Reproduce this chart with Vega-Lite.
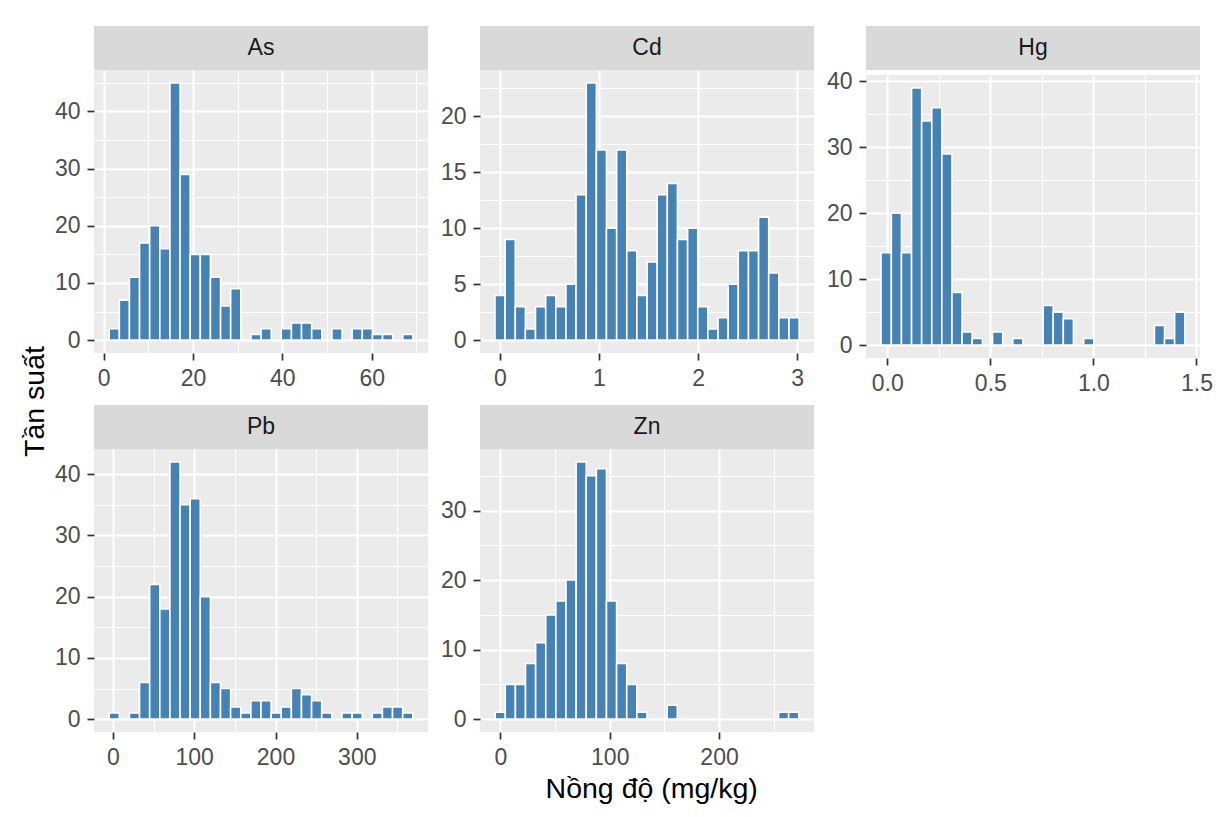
{
  "$schema": "https://vega.github.io/schema/vega-lite/v6.json",
  "background": "white",
  "padding": {"left": 20, "top": 26, "right": 5, "bottom": 5},
  "datasets": {
    "panels": [{"element": "As"}, {"element": "Cd"}, {"element": "Hg"}, {"element": "Pb"}, {"element": "Zn"}],
    "bins": [
      {"element": "As", "bin_start": 1.25, "bin_end": 3.52, "count": 2},
      {"element": "As", "bin_start": 3.52, "bin_end": 5.78, "count": 7},
      {"element": "As", "bin_start": 5.78, "bin_end": 8.05, "count": 11},
      {"element": "As", "bin_start": 8.05, "bin_end": 10.31, "count": 17},
      {"element": "As", "bin_start": 10.31, "bin_end": 12.58, "count": 20},
      {"element": "As", "bin_start": 12.58, "bin_end": 14.85, "count": 16},
      {"element": "As", "bin_start": 14.85, "bin_end": 17.11, "count": 45},
      {"element": "As", "bin_start": 17.11, "bin_end": 19.38, "count": 29},
      {"element": "As", "bin_start": 19.38, "bin_end": 21.64, "count": 15},
      {"element": "As", "bin_start": 21.64, "bin_end": 23.91, "count": 15},
      {"element": "As", "bin_start": 23.91, "bin_end": 26.18, "count": 11},
      {"element": "As", "bin_start": 26.18, "bin_end": 28.44, "count": 6},
      {"element": "As", "bin_start": 28.44, "bin_end": 30.71, "count": 9},
      {"element": "As", "bin_start": 32.97, "bin_end": 35.24, "count": 1},
      {"element": "As", "bin_start": 35.24, "bin_end": 37.51, "count": 2},
      {"element": "As", "bin_start": 39.77, "bin_end": 42.04, "count": 2},
      {"element": "As", "bin_start": 42.04, "bin_end": 44.3, "count": 3},
      {"element": "As", "bin_start": 44.3, "bin_end": 46.57, "count": 3},
      {"element": "As", "bin_start": 46.57, "bin_end": 48.84, "count": 2},
      {"element": "As", "bin_start": 51.1, "bin_end": 53.37, "count": 2},
      {"element": "As", "bin_start": 55.63, "bin_end": 57.9, "count": 2},
      {"element": "As", "bin_start": 57.9, "bin_end": 60.17, "count": 2},
      {"element": "As", "bin_start": 60.17, "bin_end": 62.43, "count": 1},
      {"element": "As", "bin_start": 62.43, "bin_end": 64.7, "count": 1},
      {"element": "As", "bin_start": 66.96, "bin_end": 69.23, "count": 1},
      {"element": "Cd", "bin_start": -0.049, "bin_end": 0.053, "count": 4},
      {"element": "Cd", "bin_start": 0.053, "bin_end": 0.156, "count": 9},
      {"element": "Cd", "bin_start": 0.156, "bin_end": 0.258, "count": 3},
      {"element": "Cd", "bin_start": 0.258, "bin_end": 0.36, "count": 1},
      {"element": "Cd", "bin_start": 0.36, "bin_end": 0.463, "count": 3},
      {"element": "Cd", "bin_start": 0.463, "bin_end": 0.565, "count": 4},
      {"element": "Cd", "bin_start": 0.565, "bin_end": 0.667, "count": 3},
      {"element": "Cd", "bin_start": 0.667, "bin_end": 0.769, "count": 5},
      {"element": "Cd", "bin_start": 0.769, "bin_end": 0.872, "count": 13},
      {"element": "Cd", "bin_start": 0.872, "bin_end": 0.974, "count": 23},
      {"element": "Cd", "bin_start": 0.974, "bin_end": 1.076, "count": 17},
      {"element": "Cd", "bin_start": 1.076, "bin_end": 1.179, "count": 10},
      {"element": "Cd", "bin_start": 1.179, "bin_end": 1.281, "count": 17},
      {"element": "Cd", "bin_start": 1.281, "bin_end": 1.383, "count": 8},
      {"element": "Cd", "bin_start": 1.383, "bin_end": 1.486, "count": 4},
      {"element": "Cd", "bin_start": 1.486, "bin_end": 1.588, "count": 7},
      {"element": "Cd", "bin_start": 1.588, "bin_end": 1.69, "count": 13},
      {"element": "Cd", "bin_start": 1.69, "bin_end": 1.792, "count": 14},
      {"element": "Cd", "bin_start": 1.792, "bin_end": 1.895, "count": 9},
      {"element": "Cd", "bin_start": 1.895, "bin_end": 1.997, "count": 10},
      {"element": "Cd", "bin_start": 1.997, "bin_end": 2.099, "count": 3},
      {"element": "Cd", "bin_start": 2.099, "bin_end": 2.202, "count": 1},
      {"element": "Cd", "bin_start": 2.202, "bin_end": 2.304, "count": 2},
      {"element": "Cd", "bin_start": 2.304, "bin_end": 2.406, "count": 5},
      {"element": "Cd", "bin_start": 2.406, "bin_end": 2.509, "count": 8},
      {"element": "Cd", "bin_start": 2.509, "bin_end": 2.611, "count": 8},
      {"element": "Cd", "bin_start": 2.611, "bin_end": 2.713, "count": 11},
      {"element": "Cd", "bin_start": 2.713, "bin_end": 2.815, "count": 6},
      {"element": "Cd", "bin_start": 2.815, "bin_end": 2.918, "count": 2},
      {"element": "Cd", "bin_start": 2.918, "bin_end": 3.02, "count": 2},
      {"element": "Hg", "bin_start": -0.03, "bin_end": 0.02, "count": 14},
      {"element": "Hg", "bin_start": 0.02, "bin_end": 0.069, "count": 20},
      {"element": "Hg", "bin_start": 0.069, "bin_end": 0.118, "count": 14},
      {"element": "Hg", "bin_start": 0.118, "bin_end": 0.167, "count": 39},
      {"element": "Hg", "bin_start": 0.167, "bin_end": 0.216, "count": 34},
      {"element": "Hg", "bin_start": 0.216, "bin_end": 0.265, "count": 36},
      {"element": "Hg", "bin_start": 0.265, "bin_end": 0.314, "count": 29},
      {"element": "Hg", "bin_start": 0.314, "bin_end": 0.363, "count": 8},
      {"element": "Hg", "bin_start": 0.363, "bin_end": 0.412, "count": 2},
      {"element": "Hg", "bin_start": 0.412, "bin_end": 0.462, "count": 1},
      {"element": "Hg", "bin_start": 0.511, "bin_end": 0.56, "count": 2},
      {"element": "Hg", "bin_start": 0.609, "bin_end": 0.658, "count": 1},
      {"element": "Hg", "bin_start": 0.756, "bin_end": 0.805, "count": 6},
      {"element": "Hg", "bin_start": 0.805, "bin_end": 0.854, "count": 5},
      {"element": "Hg", "bin_start": 0.854, "bin_end": 0.903, "count": 4},
      {"element": "Hg", "bin_start": 0.953, "bin_end": 1.002, "count": 1},
      {"element": "Hg", "bin_start": 1.296, "bin_end": 1.345, "count": 3},
      {"element": "Hg", "bin_start": 1.345, "bin_end": 1.394, "count": 1},
      {"element": "Hg", "bin_start": 1.394, "bin_end": 1.444, "count": 5},
      {"element": "Pb", "bin_start": -4.6, "bin_end": 7.85, "count": 1},
      {"element": "Pb", "bin_start": 20.3, "bin_end": 32.75, "count": 1},
      {"element": "Pb", "bin_start": 32.75, "bin_end": 45.2, "count": 6},
      {"element": "Pb", "bin_start": 45.2, "bin_end": 57.65, "count": 22},
      {"element": "Pb", "bin_start": 57.65, "bin_end": 70.1, "count": 18},
      {"element": "Pb", "bin_start": 70.1, "bin_end": 82.55, "count": 42},
      {"element": "Pb", "bin_start": 82.55, "bin_end": 95, "count": 35},
      {"element": "Pb", "bin_start": 95, "bin_end": 107.45, "count": 36},
      {"element": "Pb", "bin_start": 107.45, "bin_end": 119.9, "count": 20},
      {"element": "Pb", "bin_start": 119.9, "bin_end": 132.35, "count": 6},
      {"element": "Pb", "bin_start": 132.35, "bin_end": 144.8, "count": 5},
      {"element": "Pb", "bin_start": 144.8, "bin_end": 157.25, "count": 2},
      {"element": "Pb", "bin_start": 157.25, "bin_end": 169.7, "count": 1},
      {"element": "Pb", "bin_start": 169.7, "bin_end": 182.15, "count": 3},
      {"element": "Pb", "bin_start": 182.15, "bin_end": 194.6, "count": 3},
      {"element": "Pb", "bin_start": 194.6, "bin_end": 207.05, "count": 1},
      {"element": "Pb", "bin_start": 207.05, "bin_end": 219.5, "count": 2},
      {"element": "Pb", "bin_start": 219.5, "bin_end": 231.95, "count": 5},
      {"element": "Pb", "bin_start": 231.95, "bin_end": 244.4, "count": 4},
      {"element": "Pb", "bin_start": 244.4, "bin_end": 256.85, "count": 3},
      {"element": "Pb", "bin_start": 256.85, "bin_end": 269.3, "count": 1},
      {"element": "Pb", "bin_start": 281.75, "bin_end": 294.2, "count": 1},
      {"element": "Pb", "bin_start": 294.2, "bin_end": 306.65, "count": 1},
      {"element": "Pb", "bin_start": 319.1, "bin_end": 331.55, "count": 1},
      {"element": "Pb", "bin_start": 331.55, "bin_end": 344, "count": 2},
      {"element": "Pb", "bin_start": 344, "bin_end": 356.45, "count": 2},
      {"element": "Pb", "bin_start": 356.45, "bin_end": 368.9, "count": 1},
      {"element": "Zn", "bin_start": -4.83, "bin_end": 4.43, "count": 1},
      {"element": "Zn", "bin_start": 4.43, "bin_end": 13.69, "count": 5},
      {"element": "Zn", "bin_start": 13.69, "bin_end": 22.95, "count": 5},
      {"element": "Zn", "bin_start": 22.95, "bin_end": 32.21, "count": 8},
      {"element": "Zn", "bin_start": 32.21, "bin_end": 41.47, "count": 11},
      {"element": "Zn", "bin_start": 41.47, "bin_end": 50.73, "count": 15},
      {"element": "Zn", "bin_start": 50.73, "bin_end": 59.99, "count": 17},
      {"element": "Zn", "bin_start": 59.99, "bin_end": 69.25, "count": 20},
      {"element": "Zn", "bin_start": 69.25, "bin_end": 78.51, "count": 37},
      {"element": "Zn", "bin_start": 78.51, "bin_end": 87.77, "count": 35},
      {"element": "Zn", "bin_start": 87.77, "bin_end": 97.03, "count": 36},
      {"element": "Zn", "bin_start": 97.03, "bin_end": 106.29, "count": 17},
      {"element": "Zn", "bin_start": 106.29, "bin_end": 115.55, "count": 8},
      {"element": "Zn", "bin_start": 115.55, "bin_end": 124.81, "count": 5},
      {"element": "Zn", "bin_start": 124.81, "bin_end": 134.07, "count": 1},
      {"element": "Zn", "bin_start": 152.59, "bin_end": 161.85, "count": 2},
      {"element": "Zn", "bin_start": 254.45, "bin_end": 263.71, "count": 1},
      {"element": "Zn", "bin_start": 263.71, "bin_end": 272.97, "count": 1}
    ]
  },
  "title": {"text": "Nồng độ (mg/kg)", "orient": "bottom", "anchor": "middle", "fontSize": 28.5, "fontWeight": "normal", "font": "Liberation Sans", "color": "#000000", "offset": 6, "dx": 35},
  "vconcat": [
    {
      "title": {"text": "Tần suất", "orient": "left", "anchor": "middle", "fontSize": 28.5, "fontWeight": "normal", "font": "Liberation Sans", "color": "#000000", "offset": 5, "dx": -4},
      "columns": 3,
      "align": "each",
      "spacing": {"row": 10, "column": 12},
      "concat": [
        {
          "spacing": 0,
          "vconcat": [
            {"data": {"name": "panels"}, "transform": [{"filter": "datum.element == 'As'"}], "width": 334, "height": 44, "view": {"fill": "#D9D9D9", "stroke": null},
             "mark": {"type": "text", "font": "Liberation Sans", "fontSize": 23, "color": "#1A1A1A"}, "encoding": {"text": {"field": "element", "type": "nominal"}}},
            {"data": {"name": "bins"}, "transform": [{"filter": "datum.element == 'As'"}], "width": 334, "height": 283, "view": {"fill": "#EBEBEB", "stroke": null},
             "mark": {"type": "bar", "fill": "#4682B4", "stroke": "#FFFFFF", "strokeWidth": 1.6},
             "encoding": {
               "x": {"field": "bin_start", "type": "quantitative", "title": null, "scale": {"domain": [-2.15, 72.6], "nice": false, "zero": false},
                     "axis": {"values": [0, 10, 20, 30, 40, 50, 60, 70], "format": "d", "labelExpr": "datum.value % 20 == 0 ? datum.label : ''",
                              "tickOpacity": {"condition": {"test": "datum.value % 20 != 0", "value": 0}, "value": 1},
                              "gridWidth": {"condition": {"test": "datum.value % 20 != 0", "value": 1}, "value": 2}}},
               "x2": {"field": "bin_end"},
               "y": {"field": "count", "type": "quantitative", "title": null, "scale": {"domain": [-2.25, 47.25], "nice": false, "zero": false},
                     "axis": {"values": [0, 5, 10, 15, 20, 25, 30, 35, 40, 45], "format": "d", "labelExpr": "datum.value % 10 == 0 ? datum.label : ''",
                              "tickOpacity": {"condition": {"test": "datum.value % 10 != 0", "value": 0}, "value": 1},
                              "gridWidth": {"condition": {"test": "datum.value % 10 != 0", "value": 1}, "value": 2}}},
               "y2": {"datum": 0}
             }}
          ]
        },
        {
          "spacing": 0,
          "vconcat": [
            {"data": {"name": "panels"}, "transform": [{"filter": "datum.element == 'Cd'"}], "width": 334, "height": 44, "view": {"fill": "#D9D9D9", "stroke": null},
             "mark": {"type": "text", "font": "Liberation Sans", "fontSize": 23, "color": "#1A1A1A"}, "encoding": {"text": {"field": "element", "type": "nominal"}}},
            {"data": {"name": "bins"}, "transform": [{"filter": "datum.element == 'Cd'"}], "width": 334, "height": 283, "view": {"fill": "#EBEBEB", "stroke": null},
             "mark": {"type": "bar", "fill": "#4682B4", "stroke": "#FFFFFF", "strokeWidth": 1.6},
             "encoding": {
               "x": {"field": "bin_start", "type": "quantitative", "title": null, "scale": {"domain": [-0.2, 3.17], "nice": false, "zero": false},
                     "axis": {"values": [0, 0.5, 1, 1.5, 2, 2.5, 3], "format": "d", "labelExpr": "datum.value % 1 == 0 ? datum.label : ''",
                              "tickOpacity": {"condition": {"test": "datum.value % 1 != 0", "value": 0}, "value": 1},
                              "gridWidth": {"condition": {"test": "datum.value % 1 != 0", "value": 1}, "value": 2}}},
               "x2": {"field": "bin_end"},
               "y": {"field": "count", "type": "quantitative", "title": null, "scale": {"domain": [-1.15, 24.15], "nice": false, "zero": false},
                     "axis": {"values": [0, 2.5, 5, 7.5, 10, 12.5, 15, 17.5, 20, 22.5], "format": "d", "labelExpr": "datum.value % 5 == 0 ? datum.label : ''",
                              "tickOpacity": {"condition": {"test": "datum.value % 5 != 0", "value": 0}, "value": 1},
                              "gridWidth": {"condition": {"test": "datum.value % 5 != 0", "value": 1}, "value": 2}}},
               "y2": {"datum": 0}
             }}
          ]
        },
        {
          "spacing": 0,
          "vconcat": [
            {"data": {"name": "panels"}, "transform": [{"filter": "datum.element == 'Hg'"}], "width": 334, "height": 44, "view": {"fill": "#D9D9D9", "stroke": null},
             "mark": {"type": "text", "font": "Liberation Sans", "fontSize": 23, "color": "#1A1A1A"}, "encoding": {"text": {"field": "element", "type": "nominal"}}},
            {"data": {"name": "bins"}, "transform": [{"filter": "datum.element == 'Hg'"}], "width": 334, "height": 283, "view": {"fill": "#EBEBEB", "stroke": null},
             "mark": {"type": "bar", "fill": "#4682B4", "stroke": "#FFFFFF", "strokeWidth": 1.6},
             "encoding": {
               "x": {"field": "bin_start", "type": "quantitative", "title": null, "scale": {"domain": [-0.103, 1.517], "nice": false, "zero": false},
                     "axis": {"values": [0, 0.25, 0.5, 0.75, 1, 1.25, 1.5], "format": ".1f", "labelExpr": "datum.value % 0.5 == 0 ? datum.label : ''",
                              "tickOpacity": {"condition": {"test": "datum.value % 0.5 != 0", "value": 0}, "value": 1},
                              "gridWidth": {"condition": {"test": "datum.value % 0.5 != 0", "value": 1}, "value": 2}}},
               "x2": {"field": "bin_end"},
               "y": {"field": "count", "type": "quantitative", "title": null, "scale": {"domain": [-1.95, 40.95], "nice": false, "zero": false},
                     "axis": {"values": [0, 5, 10, 15, 20, 25, 30, 35, 40], "format": "d", "labelExpr": "datum.value % 10 == 0 ? datum.label : ''",
                              "tickOpacity": {"condition": {"test": "datum.value % 10 != 0", "value": 0}, "value": 1},
                              "gridWidth": {"condition": {"test": "datum.value % 10 != 0", "value": 1}, "value": 2}}},
               "y2": {"datum": 0}
             }}
          ]
        },
        {
          "spacing": 0,
          "vconcat": [
            {"data": {"name": "panels"}, "transform": [{"filter": "datum.element == 'Pb'"}], "width": 334, "height": 44, "view": {"fill": "#D9D9D9", "stroke": null},
             "mark": {"type": "text", "font": "Liberation Sans", "fontSize": 23, "color": "#1A1A1A"}, "encoding": {"text": {"field": "element", "type": "nominal"}}},
            {"data": {"name": "bins"}, "transform": [{"filter": "datum.element == 'Pb'"}], "width": 334, "height": 283, "view": {"fill": "#EBEBEB", "stroke": null},
             "mark": {"type": "bar", "fill": "#4682B4", "stroke": "#FFFFFF", "strokeWidth": 1.6},
             "encoding": {
               "x": {"field": "bin_start", "type": "quantitative", "title": null, "scale": {"domain": [-23.3, 387.6], "nice": false, "zero": false},
                     "axis": {"values": [0, 50, 100, 150, 200, 250, 300, 350], "format": "d", "labelExpr": "datum.value % 100 == 0 ? datum.label : ''",
                              "tickOpacity": {"condition": {"test": "datum.value % 100 != 0", "value": 0}, "value": 1},
                              "gridWidth": {"condition": {"test": "datum.value % 100 != 0", "value": 1}, "value": 2}}},
               "x2": {"field": "bin_end"},
               "y": {"field": "count", "type": "quantitative", "title": null, "scale": {"domain": [-2.1, 44.1], "nice": false, "zero": false},
                     "axis": {"values": [0, 5, 10, 15, 20, 25, 30, 35, 40], "format": "d", "labelExpr": "datum.value % 10 == 0 ? datum.label : ''",
                              "tickOpacity": {"condition": {"test": "datum.value % 10 != 0", "value": 0}, "value": 1},
                              "gridWidth": {"condition": {"test": "datum.value % 10 != 0", "value": 1}, "value": 2}}},
               "y2": {"datum": 0}
             }}
          ]
        },
        {
          "spacing": 0,
          "vconcat": [
            {"data": {"name": "panels"}, "transform": [{"filter": "datum.element == 'Zn'"}], "width": 334, "height": 44, "view": {"fill": "#D9D9D9", "stroke": null},
             "mark": {"type": "text", "font": "Liberation Sans", "fontSize": 23, "color": "#1A1A1A"}, "encoding": {"text": {"field": "element", "type": "nominal"}}},
            {"data": {"name": "bins"}, "transform": [{"filter": "datum.element == 'Zn'"}], "width": 334, "height": 283, "view": {"fill": "#EBEBEB", "stroke": null},
             "mark": {"type": "bar", "fill": "#4682B4", "stroke": "#FFFFFF", "strokeWidth": 1.6},
             "encoding": {
               "x": {"field": "bin_start", "type": "quantitative", "title": null, "scale": {"domain": [-18.7, 286.9], "nice": false, "zero": false},
                     "axis": {"values": [0, 50, 100, 150, 200, 250], "format": "d", "labelExpr": "datum.value % 100 == 0 ? datum.label : ''",
                              "tickOpacity": {"condition": {"test": "datum.value % 100 != 0", "value": 0}, "value": 1},
                              "gridWidth": {"condition": {"test": "datum.value % 100 != 0", "value": 1}, "value": 2}}},
               "x2": {"field": "bin_end"},
               "y": {"field": "count", "type": "quantitative", "title": null, "scale": {"domain": [-1.85, 38.85], "nice": false, "zero": false},
                     "axis": {"values": [0, 5, 10, 15, 20, 25, 30, 35], "format": "d", "labelExpr": "datum.value % 10 == 0 ? datum.label : ''",
                              "tickOpacity": {"condition": {"test": "datum.value % 10 != 0", "value": 0}, "value": 1},
                              "gridWidth": {"condition": {"test": "datum.value % 10 != 0", "value": 1}, "value": 2}}},
               "y2": {"datum": 0}
             }}
          ]
        }
      ]
    }
  ],
  "config": {
    "font": "Liberation Sans",
    "view": {"stroke": null},
    "axis": {"labelFont": "Liberation Sans", "labelFontSize": 23, "labelColor": "#4D4D4D", "tickColor": "#333333", "tickWidth": 1.7, "tickSize": 7, "domain": false, "gridColor": "#FFFFFF", "labelOverlap": false, "labelFlush": false},
    "axisX": {"labelPadding": 7},
    "axisY": {"labelPadding": 7}
  }
}
